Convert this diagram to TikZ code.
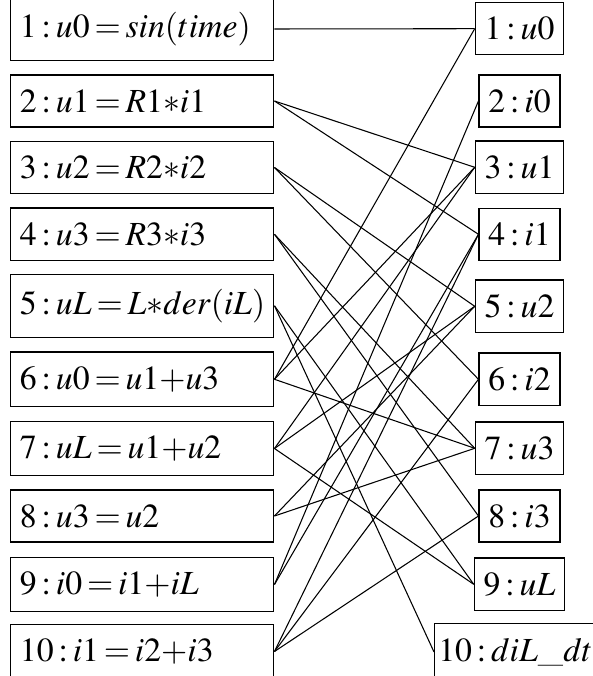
\documentclass[tikz,border=0pt]{standalone}
\usepackage{mathptmx}
\usepackage{tikz}
\usetikzlibrary{positioning}
\thickmuskip=2.6mu
\medmuskip=0mu
\relpenalty=10000
\binoppenalty=10000

\begin{document}
\begin{tikzpicture}[
x=0.2817pt, y=-0.2817pt,
eqbox/.style={draw, anchor=west, text width=68.9pt, align=left, inner xsep=2.6pt, inner ysep=4.1pt, font=\fontsize{9.5}{11}\selectfont},
varbox/.style={draw, inner xsep=2.6pt, inner ysep=4.1pt, font=\fontsize{9.5}{11}\selectfont},
link/.style={line width=0.3pt}
]
\useasboundingbox (0,0) rectangle (592,676);

% equations
\foreach \n/\yy/\eq in {1/29/{u0=sin(time)}, 2/101/{u1=R1\ast i1}, 3/167.5/{u2=R2\ast i2},
  4/234.3/{u3=R3\ast i3}, 5/305.8/{uL=L\ast der(iL)}, 6/379.3/{u0=u1+u3},
  7/448.5/{uL=u1+u2}, 8/516/{u3=u2}, 9/584.5/{i0=i1+iL}, 10/651.5/{i1=i2+i3}}
  \node[eqbox] (e\n) at (10,\yy) {$\n:\eq$};

% variables
\foreach \n/\yy/\v in {1/28.7/u0, 2/101/i0, 3/167.3/u1, 4/234.3/i1, 5/306.3/u2,
  6/379.3/i2, 7/448.3/u3, 8/516/i3, 9/584.3/uL}
  \node[varbox] (v\n) at (519.5,\yy) {$\n:\v$};
\node[varbox, anchor=west, inner xsep=1pt] (v10) at (434,652) {$10:diL\_dt$};

\foreach \a/\b in {1/1, 2/3, 2/4, 3/5, 3/6, 4/7, 4/8, 5/9, 5/10, 6/1, 6/3, 6/7,
  7/3, 7/5, 7/9, 8/5, 8/7, 9/2, 9/4, 10/4, 10/6, 10/8}
  \draw[link] (e\a.east) -- (v\b.west);
\end{tikzpicture}
\end{document}
